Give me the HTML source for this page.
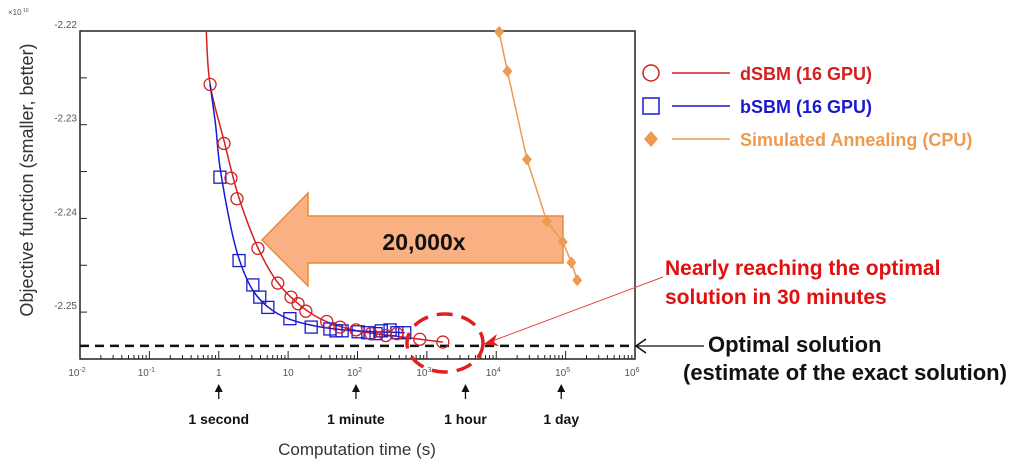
<!DOCTYPE html>
<html><head><meta charset="utf-8"><style>
body{margin:0;background:#fff}
svg{font-family:"Liberation Sans",sans-serif;display:block}
</style></head><body>
<svg id="c" width="1024" height="472" viewBox="0 0 1024 472"></svg>
<script>
const redT=[0.75,1.19,1.5,1.83,3.67,7.1,11,13.9,18,36,56,95,156,255,370,790,1700];
const redV=[-2.2257,-2.2320,-2.2357,-2.2379,-2.2432,-2.2469,-2.2484,-2.2491,-2.2499,-2.2510,-2.2516,-2.2519,-2.2523,-2.2525,-2.2523,-2.2529,-2.2532];
const blueT=[1.04,1.96,3.1,3.9,5.1,10.6,21.5,40,49,60,102,141,185,220,295,370,480];
const blueV=[-2.2356,-2.2445,-2.2471,-2.2484,-2.2495,-2.2507,-2.2516,-2.2518,-2.2520,-2.2520,-2.2521,-2.2522,-2.2523,-2.2520,-2.2519,-2.2522,-2.2522];
const saT=[11000,14500,27700,53500,91000,121000,147000];
const saV=[-2.2201,-2.2243,-2.2337,-2.2403,-2.2425,-2.2447,-2.2466];
const redFitT=[0.66,0.75,1.2,1.9,3.6,7,15,35,100,300,1700];
const redFitV=[-2.22,-2.2257,-2.2318,-2.2375,-2.2430,-2.2468,-2.2493,-2.2510,-2.2520,-2.2525,-2.2532];
const blueFitT=[0.75,0.9,1.04,1.5,2,3,5,10,30,100,480];
const blueFitV=[-2.2257,-2.2300,-2.2345,-2.2410,-2.2445,-2.2475,-2.2494,-2.2507,-2.2516,-2.2520,-2.2522];
const optimal=-2.2536;
const xTickExp=[-2,-1,0,1,2,3,4,5,6];
const xTickLabels=["10","10","1","10","10","10","10","10","10"];
const xTickSup=["-2","-1","","","2","3","4","5","6"];
const yTicks=[-2.22,-2.23,-2.24,-2.25];
const markerT=[1,95,3600,86400];
const markerLabels=['1 second','1 minute','1 hour','1 day'];

const L=80,R=635,T=31,B=359;
const X=t=>L+(Math.log10(t)+2)*(R-L)/8;
const Y=v=>T+(-2.22-v)/0.01*93.7;
const svg=document.getElementById('c');
const NS='http://www.w3.org/2000/svg';
function mk(tag,attrs,parent){const e=document.createElementNS(NS,tag);for(const k in attrs)e.setAttribute(k,attrs[k]);(parent||svg).appendChild(e);return e;}
function txt(s,attrs,name){const e=mk('text',attrs);e.textContent=s;

return e;}
function smooth(pts){let d='M'+pts[0][0]+','+pts[0][1];
for(let i=0;i<pts.length-1;i++){const p0=pts[Math.max(0,i-1)],p1=pts[i],p2=pts[i+1],p3=pts[Math.min(pts.length-1,i+2)];
d+=' C'+(p1[0]+(p2[0]-p0[0])/6)+','+(p1[1]+(p2[1]-p0[1])/6)+' '+(p2[0]-(p3[0]-p1[0])/6)+','+(p2[1]-(p3[1]-p1[1])/6)+' '+p2[0]+','+p2[1];}return d;}

const fr=mk('rect',{x:L,y:T,width:R-L,height:B-T,fill:'none',stroke:'#222','stroke-width':1.5});


xTickExp.forEach((e,i)=>{const x=X(Math.pow(10,e));
const tk=mk('line',{x1:x,x2:x,y1:B,y2:B-8,stroke:'#222'});


if(e<6)for(let m=2;m<10;m++){const xm=X(m*Math.pow(10,e));const mt=mk('line',{x1:xm,x2:xm,y1:B,y2:B-4,stroke:'#222'});

}
const t=txt(xTickLabels[i],{x:x-(xTickSup[i]?3:0),y:B+17,'font-size':10,fill:'#555','text-anchor':'middle'},'x-tick-label');
if(xTickSup[i]){const s=mk('tspan',{'font-size':7,dy:-4},t);s.textContent=xTickSup[i];}
});
for(let v=-2.22;v>=-2.2551;v-=0.005){const y=Y(v);const tk=mk('line',{x1:L,x2:L+7,y1:y,y2:y,stroke:'#222'});

}
yTicks.forEach(v=>txt(v.toFixed(2),{x:77,y:Y(v)-3,'font-size':10,fill:'#555','text-anchor':'end'},'y-tick-label'));
txt('×10',{x:8,y:15,'font-size':8,fill:'#555'},'y-scale-factor');
txt('10',{x:23,y:12,'font-size':5,fill:'#555'},'y-scale-exponent');
txt('Objective function (smaller, better)',{x:0,y:0,'font-size':18,fill:'#333','text-anchor':'middle',transform:'translate(33,180) rotate(-90)'},'y-axis-title');
txt('Computation time (s)',{x:357,y:455,'font-size':17,fill:'#333','text-anchor':'middle'},'x-axis-title');

const ol=mk('line',{x1:L,x2:R,y1:Y(optimal),y2:Y(optimal),stroke:'#111','stroke-width':2.5,'stroke-dasharray':'9,6'});



const ar=mk('polygon',{points:'262,240 308,193 308,216 563,216 563,263 308,263 308,286',fill:'#f9b183',stroke:'#e8893d','stroke-width':1.5});


txt('20,000x',{x:424,y:250,'font-size':23,'font-weight':'bold',fill:'#111','text-anchor':'middle'},'speedup-label');

const rf=mk('path',{d:smooth(redFitT.map((t,i)=>[X(t),Y(redFitV[i])])),fill:'none',stroke:'#d42020','stroke-width':1.5});


const bf=mk('path',{d:smooth(blueFitT.map((t,i)=>[X(t),Y(blueFitV[i])])),fill:'none',stroke:'#1a1acc','stroke-width':1.5});


const sl=mk('polyline',{points:saT.map((t,i)=>X(t)+','+Y(saV[i])).join(' '),fill:'none',stroke:'#ee9a50','stroke-width':1.5});


blueT.forEach((t,i)=>{const m=mk('rect',{x:X(t)-6,y:Y(blueV[i])-6,width:12,height:12,fill:'none',stroke:'#1a1acc','stroke-width':1.3});

});
redT.forEach((t,i)=>{const m=mk('circle',{cx:X(t),cy:Y(redV[i]),r:6,fill:'none',stroke:'#d42020','stroke-width':1.3});

});
saT.forEach((t,i)=>{const x=X(t),y=Y(saV[i]);const m=mk('polygon',{points:`${x},${y-6} ${x+5},${y} ${x},${y+6} ${x-5},${y}`,fill:'#ee9a50'});

});

const dc=mk('ellipse',{cx:445,cy:343,rx:38,ry:29,fill:'none',stroke:'#e02020','stroke-width':3.5,'stroke-dasharray':'16,9'});


const al=mk('line',{x1:487,y1:343,x2:663,y2:277,stroke:'#e04040','stroke-width':1});


const ah=mk('polygon',{points:'484,344 497,334 494,342 499,346',fill:'#e02020'});


txt('Nearly reaching the optimal',{x:665,y:275,'font-size':21,'font-weight':'bold',fill:'#e01010'},'annotation-line1');
txt('solution in 30 minutes',{x:665,y:304,'font-size':21,'font-weight':'bold',fill:'#e01010'},'annotation-line2');
const bl=mk('line',{x1:636,y1:346,x2:704,y2:346,stroke:'#111','stroke-width':1.2});


const bh=mk('polyline',{points:'646,339 636,346 646,353',fill:'none',stroke:'#111','stroke-width':1.5});


txt('Optimal solution',{x:708,y:352,'font-size':22,'font-weight':'bold',fill:'#111'},'optimal-label');
txt('(estimate of the exact solution)',{x:683,y:380,'font-size':22,'font-weight':'bold',fill:'#111'},'optimal-sublabel');

markerT.forEach((t,i)=>{const x=X(t);
const a=mk('line',{x1:x,x2:x,y1:399,y2:388,stroke:'#111','stroke-width':1.3});


const h=mk('polygon',{points:`${x},384 ${x-4},392 ${x+4},392`,fill:'#111'});


txt(markerLabels[i],{x:x,y:424,'font-size':14,'font-weight':'bold',fill:'#111','text-anchor':'middle'},'time-marker-label');});

const lg=[['#d42020','circle','dSBM (16 GPU)',73],['#1a1acc','square','bSBM (16 GPU)',106],['#ee9a50','diamond','Simulated Annealing (CPU)',139]];
lg.forEach(([c,s,label,y])=>{
let m;
if(s==='circle')m=mk('circle',{cx:651,cy:y,r:8,fill:'none',stroke:c,'stroke-width':1.5});
else if(s==='square')m=mk('rect',{x:643,y:y-8,width:16,height:16,fill:'none',stroke:c,'stroke-width':1.5});
else m=mk('polygon',{points:`651,${y-8} 658,${y} 651,${y+8} 644,${y}`,fill:c});


const l=mk('line',{x1:672,x2:730,y1:y,y2:y,stroke:c,'stroke-width':1.5});


txt(label,{x:740,y:y+7,'font-size':18,'font-weight':'bold',fill:c},'legend-entry');});
</script>
</body></html>
